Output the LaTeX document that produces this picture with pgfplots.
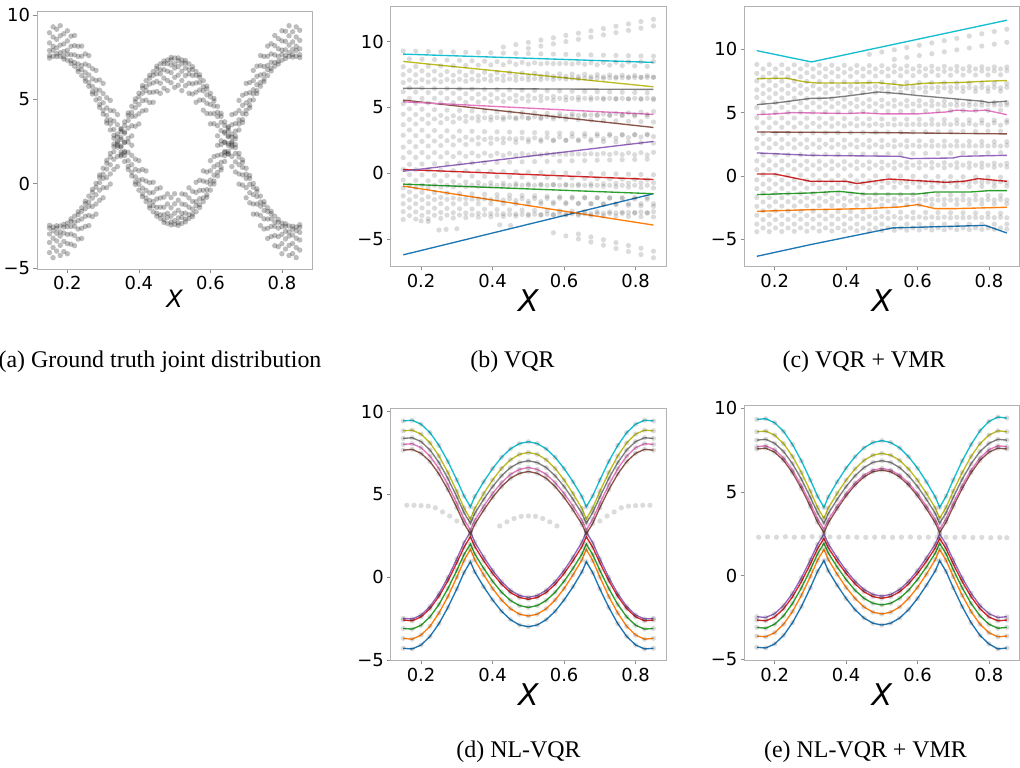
\documentclass[border=0pt]{standalone}
\usepackage{fontspec}
\setmainfont{DejaVu Sans}
\newfontfamily\capfont{Liberation Serif}
\usepackage{pgfplots}
\usepackage{pgfplotstable}
\pgfplotsset{compat=1.18}
\definecolor{tabblue}{HTML}{1F77B4}
\definecolor{taborange}{HTML}{FF7F0E}
\definecolor{tabgreen}{HTML}{2CA02C}
\definecolor{tabred}{HTML}{D62728}
\definecolor{tabpurple}{HTML}{9467BD}
\definecolor{tabbrown}{HTML}{8C564B}
\definecolor{tabpink}{HTML}{E377C2}
\definecolor{tabgray}{HTML}{7F7F7F}
\definecolor{tabolive}{HTML}{BCBD22}
\definecolor{tabcyan}{HTML}{17BECF}
\pgfplotsset{
 panel/.style={
  scale only axis, anchor=south west,
  xmin=0.115, xmax=0.885,
  xtick={0.2,0.4,0.6,0.8}, xticklabels={0.2,0.4,0.6,0.8},
  ytick={-5,0,5,10}, yticklabels={−5,0,5,10},
  xtick pos=bottom, ytick pos=left,
  tick align=outside, major tick length=3.5bp,
  tick style={draw=black!45, line width=0.6bp},
  axis line style={draw=black!30, line width=0.8bp},
  ticklabel style={font=\fontsize{18}{18}\selectfont},
  xlabel={X}, xlabel style={font=\fontsize{30}{30}\selectfont\itshape, yshift=4bp},
 },
 dots/.style={only marks, mark=*, mark size=2.7bp, black, mark options={draw opacity=0, fill opacity=0.26}},
 ldots/.style={only marks, mark=*, mark size=2.6bp, black, mark options={draw opacity=0, fill opacity=0.14}},
 qline/.style={no marks, line width=1.35bp},
}
\pgfplotstableread{
x a1 a2 a3 a4 a5 b1 b2 b3 b4 b5
0.15 -2.47 -2.64 -2.99 -3.49 -4.09 7.44 7.59 7.89 8.34 8.94
0.16 -2.57 -2.79 -3.24 -3.79 -4.39 7.54 7.89 8.14 8.69 9.29
0.17 -2.50 -2.65 -2.95 -3.40 -4.00 7.53 7.70 8.05 8.55 9.15
0.18 -2.51 -2.86 -3.11 -3.66 -4.26 7.54 7.76 8.21 8.76 9.36
0.19 -2.41 -2.58 -2.93 -3.43 -4.03 7.38 7.53 7.83 8.28 8.88
0.20 -2.34 -2.56 -3.01 -3.56 -4.16 7.31 7.66 7.91 8.46 9.06
0.21 -2.09 -2.24 -2.54 -2.99 -3.59 7.12 7.29 7.64 8.14 8.74
0.22 -1.93 -2.28 -2.53 -3.08 -3.68 6.96 7.18 7.63 8.18 8.78
0.23 -1.67 -1.84 -2.19 -2.69 -3.29 6.64 6.79 7.09 7.54 8.14
0.24 -1.43 -1.65 -2.10 -2.65 -3.25 6.40 6.75 7.00 7.55 8.15
0.25 -1.04 -1.19 -1.49 -1.94 -2.54 6.07 6.24 6.59 7.09 7.69
0.26 -0.74 -1.09 -1.34 -1.89 -2.49 5.77 5.99 6.44 6.99 7.59
0.27 -0.34 -0.51 -0.86 -1.36 -1.96 5.31 5.46 5.76 6.21 6.81
0.28 0.01 -0.21 -0.66 -1.21 -1.81 4.96 5.31 5.56 6.11 6.71
0.29 0.51 0.36 0.06 -0.39 -0.99 4.52 4.69 5.04 5.54 6.14
0.30 0.91 0.56 0.31 -0.24 -0.84 4.12 4.34 4.79 5.34 5.94
0.31 1.38 1.21 0.86 0.36 -0.24 3.59 3.74 4.04 4.49 5.09
0.32 1.79 1.57 1.12 0.57 -0.03 3.18 3.53 3.78 4.33 4.93
0.33 2.34 2.19 1.89 1.44 0.84 2.69 2.86 3.21 3.71 4.31
0.34 2.76 2.41 2.16 1.61 1.01 2.27 2.49 2.94 3.49 4.09
0.35 3.25 3.08 2.73 2.23 1.63 1.72 1.87 2.17 2.62 3.22
0.36 3.66 3.44 2.99 2.44 1.84 1.31 1.66 1.91 2.46 3.06
0.37 4.19 4.04 3.74 3.29 2.69 0.84 1.01 1.36 1.86 2.46
0.38 4.58 4.23 3.98 3.43 2.83 0.45 0.67 1.12 1.67 2.27
0.39 5.02 4.85 4.50 4.00 3.40 -0.05 0.10 0.40 0.85 1.45
0.40 5.36 5.14 4.69 4.14 3.54 -0.39 -0.04 0.21 0.76 1.36
0.41 5.81 5.66 5.36 4.91 4.31 -0.78 -0.61 -0.26 0.24 0.84
0.42 6.10 5.75 5.50 4.95 4.35 -1.07 -0.85 -0.40 0.15 0.75
0.43 6.42 6.25 5.90 5.40 4.80 -1.45 -1.30 -1.00 -0.55 0.05
0.44 6.64 6.42 5.97 5.42 4.82 -1.67 -1.32 -1.07 -0.52 0.08
0.45 6.96 6.81 6.51 6.06 5.46 -1.93 -1.76 -1.41 -0.91 -0.31
0.46 7.10 6.75 6.50 5.95 5.35 -2.07 -1.85 -1.40 -0.85 -0.25
0.47 7.27 7.10 6.75 6.25 5.65 -2.30 -2.15 -1.85 -1.40 -0.80
0.48 7.33 7.11 6.66 6.11 5.51 -2.36 -2.01 -1.76 -1.21 -0.61
0.49 7.48 7.33 7.03 6.58 5.98 -2.45 -2.28 -1.93 -1.43 -0.83
0.50 7.45 7.10 6.85 6.30 5.70 -2.42 -2.20 -1.75 -1.20 -0.60
0.51 7.45 7.28 6.93 6.43 5.83 -2.48 -2.33 -2.03 -1.58 -0.98
0.52 7.33 7.11 6.66 6.11 5.51 -2.36 -2.01 -1.76 -1.21 -0.61
0.53 7.30 7.15 6.85 6.40 5.80 -2.27 -2.10 -1.75 -1.25 -0.65
0.54 7.10 6.75 6.50 5.95 5.35 -2.07 -1.85 -1.40 -0.85 -0.25
0.55 6.93 6.76 6.41 5.91 5.31 -1.96 -1.81 -1.51 -1.06 -0.46
0.56 6.64 6.42 5.97 5.42 4.82 -1.67 -1.32 -1.07 -0.52 0.08
0.57 6.45 6.30 6.00 5.55 4.95 -1.42 -1.25 -0.90 -0.40 0.20
0.58 6.10 5.75 5.50 4.95 4.35 -1.07 -0.85 -0.40 0.15 0.75
0.59 5.78 5.61 5.26 4.76 4.16 -0.81 -0.66 -0.36 0.09 0.69
0.60 5.36 5.14 4.69 4.14 3.54 -0.39 -0.04 0.21 0.76 1.36
0.61 5.05 4.90 4.60 4.15 3.55 -0.02 0.15 0.50 1.00 1.60
0.62 4.58 4.23 3.98 3.43 2.83 0.45 0.67 1.12 1.67 2.27
0.63 4.16 3.99 3.64 3.14 2.54 0.81 0.96 1.26 1.71 2.31
0.64 3.66 3.44 2.99 2.44 1.84 1.31 1.66 1.91 2.46 3.06
0.65 3.28 3.13 2.83 2.38 1.78 1.75 1.92 2.27 2.77 3.37
0.66 2.76 2.41 2.16 1.61 1.01 2.27 2.49 2.94 3.49 4.09
0.67 2.31 2.14 1.79 1.29 0.69 2.66 2.81 3.11 3.56 4.16
0.68 1.79 1.57 1.12 0.57 -0.03 3.18 3.53 3.78 4.33 4.93
0.69 1.41 1.26 0.96 0.51 -0.09 3.62 3.79 4.14 4.64 5.24
0.70 0.91 0.56 0.31 -0.24 -0.84 4.12 4.34 4.79 5.34 5.94
0.71 0.48 0.31 -0.04 -0.54 -1.14 4.49 4.64 4.94 5.39 5.99
0.72 0.01 -0.21 -0.66 -1.21 -1.81 4.96 5.31 5.56 6.11 6.71
0.73 -0.31 -0.46 -0.76 -1.21 -1.81 5.34 5.51 5.86 6.36 6.96
0.74 -0.74 -1.09 -1.34 -1.89 -2.49 5.77 5.99 6.44 6.99 7.59
0.75 -1.07 -1.24 -1.59 -2.09 -2.69 6.04 6.19 6.49 6.94 7.54
0.76 -1.43 -1.65 -2.10 -2.65 -3.25 6.40 6.75 7.00 7.55 8.15
0.77 -1.64 -1.79 -2.09 -2.54 -3.14 6.67 6.84 7.19 7.69 8.29
0.78 -1.93 -2.28 -2.53 -3.08 -3.68 6.96 7.18 7.63 8.18 8.78
0.79 -2.12 -2.29 -2.64 -3.14 -3.74 7.09 7.24 7.54 7.99 8.59
0.80 -2.34 -2.56 -3.01 -3.56 -4.16 7.31 7.66 7.91 8.46 9.06
0.81 -2.38 -2.53 -2.83 -3.28 -3.88 7.41 7.58 7.93 8.43 9.03
0.82 -2.51 -2.86 -3.11 -3.66 -4.26 7.54 7.76 8.21 8.76 9.36
0.83 -2.53 -2.70 -3.05 -3.55 -4.15 7.50 7.65 7.95 8.40 9.00
0.84 -2.57 -2.79 -3.24 -3.79 -4.39 7.54 7.89 8.14 8.69 9.29
0.85 -2.44 -2.59 -2.89 -3.34 -3.94 7.47 7.64 7.99 8.49 9.09
}\tabA
\pgfplotstableread{
x s1 s2 s3 s4 s5 s6 s7 s8 s9 s10 s11 s12 s13 s14 s15 s16 s17 s18
0.150 9.30 8.10 7.50 6.90 6.20 5.30 4.50 3.70 2.90 2.00 1.20 0.30 -0.50 -1.10 -1.70 -2.30 -2.90 -3.50
0.185 9.28 8.12 7.49 6.92 6.17 5.32 4.47 3.75 2.87 2.04 1.22 0.28 -0.53 -1.08 -1.74 -2.30 -2.92 -3.47
0.220 9.26 8.14 7.48 6.94 6.14 5.34 4.44 3.80 2.84 2.08 1.24 0.26 -0.56 -1.06 -1.78 -2.30 -2.94 -3.44
0.255 9.24 8.16 7.47 6.96 6.11 5.36 4.41 3.85 2.81 2.12 1.26 0.24 -0.59 -1.04 -1.82 -2.30 -2.96 -3.41
0.290 9.22 8.18 7.46 6.98 6.08 5.38 4.38 3.90 2.78 2.16 1.28 0.22 -0.62 -1.02 -1.86 -2.30 -2.98 -3.38
0.325 9.20 8.20 7.45 7.00 6.05 5.40 4.35 3.95 2.75 2.20 1.30 0.20 -0.65 -1.00 -1.90 -2.30 -3.00 -3.35
0.360 9.18 8.22 7.44 7.02 6.02 5.42 4.32 4.00 2.72 2.24 1.32 0.18 -0.68 -0.98 -1.94 -2.30 -3.02 -3.32
0.395 9.16 8.24 7.43 7.04 5.99 5.44 4.29 4.05 2.69 2.28 1.34 0.16 -0.71 -0.96 -1.98 -2.30 -3.04 -3.29
0.430 9.14 8.26 7.42 7.06 5.96 5.46 4.26 4.10 2.66 2.32 1.36 0.14 -0.74 -0.94 -2.02 -2.30 -3.06 -3.26
0.465 9.12 8.28 7.41 7.08 5.93 5.48 4.23 4.15 2.63 2.36 1.38 0.12 -0.77 -0.92 -2.06 -2.30 -3.08 -3.23
0.500 9.10 8.30 7.40 7.10 5.90 5.50 4.20 4.20 2.60 2.40 1.40 0.10 -0.80 -0.90 -2.10 -2.30 -3.10 -3.20
0.535 9.08 8.32 7.39 7.12 5.87 5.52 4.17 4.25 2.57 2.44 1.42 0.08 -0.83 -0.88 -2.14 -2.30 -3.12 -3.17
0.570 9.06 8.34 7.38 7.14 5.84 5.54 4.14 4.30 2.54 2.48 1.44 0.06 -0.86 -0.86 -2.18 -2.30 -3.14 -3.14
0.605 9.04 8.36 7.37 7.16 5.81 5.56 4.11 4.35 2.51 2.52 1.46 0.04 -0.89 -0.84 -2.22 -2.30 -3.16 -3.11
0.640 9.02 8.38 7.36 7.18 5.78 5.58 4.08 4.40 2.48 2.56 1.48 0.02 -0.92 -0.82 -2.26 -2.30 -3.18 -3.08
0.675 9.00 8.40 7.35 7.20 5.75 5.60 4.05 4.45 2.45 2.60 1.50 0.00 -0.95 -0.80 -2.30 -2.30 -3.20 -3.05
0.710 8.98 8.42 7.34 7.22 5.72 5.62 4.02 4.50 2.42 2.64 1.52 -0.02 -0.98 -0.78 -2.34 -2.30 -3.22 -3.02
0.745 8.96 8.44 7.33 7.24 5.69 5.64 3.99 4.55 2.39 2.68 1.54 -0.04 -1.01 -0.76 -2.38 -2.30 -3.24 -2.99
0.780 8.94 8.46 7.32 7.26 5.66 5.66 3.96 4.60 2.36 2.72 1.56 -0.06 -1.04 -0.74 -2.42 -2.30 -3.26 -2.96
0.815 8.92 8.48 7.31 7.28 5.63 5.68 3.93 4.65 2.33 2.76 1.58 -0.08 -1.07 -0.72 -2.46 -2.30 -3.28 -2.93
0.850 8.90 8.50 7.30 7.30 5.60 5.70 3.90 4.70 2.30 2.80 1.60 -0.10 -1.10 -0.70 -2.50 -2.30 -3.30 -2.90
}\tabB
\pgfplotstableread{
x t1 t2 t3 t4 t5 t6 t7 t8 t9 t10 t11 t12 t13 t14 t15 t16 t17
0.1675 8.70 7.80 7.10 6.50 5.70 4.90 4.10 3.30 2.40 1.60 0.70 -0.10 -0.90 -1.40 -2.00 -2.60 -3.20
0.2025 8.67 7.78 7.11 6.48 5.70 4.87 4.12 3.28 2.43 1.59 0.72 -0.12 -0.90 -1.43 -1.99 -2.62 -3.19
0.2375 8.64 7.76 7.12 6.46 5.70 4.84 4.14 3.26 2.46 1.58 0.74 -0.14 -0.90 -1.46 -1.98 -2.64 -3.18
0.2725 8.61 7.74 7.13 6.44 5.70 4.81 4.16 3.24 2.49 1.57 0.76 -0.16 -0.90 -1.49 -1.97 -2.66 -3.17
0.3075 8.58 7.72 7.14 6.42 5.70 4.78 4.18 3.22 2.52 1.56 0.78 -0.18 -0.90 -1.52 -1.96 -2.68 -3.16
0.3425 8.55 7.70 7.15 6.40 5.70 4.75 4.20 3.20 2.55 1.55 0.80 -0.20 -0.90 -1.55 -1.95 -2.70 -3.15
0.3775 8.52 7.68 7.16 6.38 5.70 4.72 4.22 3.18 2.58 1.54 0.82 -0.22 -0.90 -1.58 -1.94 -2.72 -3.14
0.4125 8.49 7.66 7.17 6.36 5.70 4.69 4.24 3.16 2.61 1.53 0.84 -0.24 -0.90 -1.61 -1.93 -2.74 -3.13
0.4475 8.46 7.64 7.18 6.34 5.70 4.66 4.26 3.14 2.64 1.52 0.86 -0.26 -0.90 -1.64 -1.92 -2.76 -3.12
0.4825 8.43 7.62 7.19 6.32 5.70 4.63 4.28 3.12 2.67 1.51 0.88 -0.28 -0.90 -1.67 -1.91 -2.78 -3.11
0.5175 8.40 7.60 7.20 6.30 5.70 4.60 4.30 3.10 2.70 1.50 0.90 -0.30 -0.90 -1.70 -1.90 -2.80 -3.10
0.5525 8.37 7.58 7.21 6.28 5.70 4.57 4.32 3.08 2.73 1.49 0.92 -0.32 -0.90 -1.73 -1.89 -2.82 -3.09
0.5875 8.34 7.56 7.22 6.26 5.70 4.54 4.34 3.06 2.76 1.48 0.94 -0.34 -0.90 -1.76 -1.88 -2.84 -3.08
0.6225 8.31 7.54 7.23 6.24 5.70 4.51 4.36 3.04 2.79 1.47 0.96 -0.36 -0.90 -1.79 -1.87 -2.86 -3.07
0.6575 8.28 7.52 7.24 6.22 5.70 4.48 4.38 3.02 2.82 1.46 0.98 -0.38 -0.90 -1.82 -1.86 -2.88 -3.06
0.6925 8.25 7.50 7.25 6.20 5.70 4.45 4.40 3.00 2.85 1.45 1.00 -0.40 -0.90 -1.85 -1.85 -2.90 -3.05
0.7275 8.22 7.48 7.26 6.18 5.70 4.42 4.42 2.98 2.88 1.44 1.02 -0.42 -0.90 -1.88 -1.84 -2.92 -3.04
0.7625 8.19 7.46 7.27 6.16 5.70 4.39 4.44 2.96 2.91 1.43 1.04 -0.44 -0.90 -1.91 -1.83 -2.94 -3.03
0.7975 8.16 7.44 7.28 6.14 5.70 4.36 4.46 2.94 2.94 1.42 1.06 -0.46 -0.90 -1.94 -1.82 -2.96 -3.02
0.8325 8.13 7.42 7.29 6.12 5.70 4.33 4.48 2.92 2.97 1.41 1.08 -0.48 -0.90 -1.97 -1.81 -2.98 -3.01
}\tabBB
\pgfplotstableread{
x c1 c2 c3 c4 c5 c6 c7 c8 c9 c10 c11 c12 c13 c14 c15 c16 c17 c18 c19
0.150 8.80 8.10 7.50 6.80 6.20 5.40 4.60 3.80 2.90 2.20 1.20 0.50 -0.30 -1.00 -1.70 -2.40 -3.10 -3.80 -4.40
0.185 8.79 8.11 7.49 6.81 6.18 5.41 4.59 3.82 2.89 2.21 1.19 0.51 -0.31 -0.99 -1.71 -2.39 -3.11 -3.80 -4.39
0.220 8.78 8.12 7.48 6.82 6.16 5.42 4.58 3.84 2.88 2.22 1.18 0.52 -0.32 -0.98 -1.72 -2.38 -3.12 -3.80 -4.38
0.255 8.77 8.13 7.47 6.83 6.14 5.43 4.57 3.86 2.87 2.23 1.17 0.53 -0.33 -0.97 -1.73 -2.37 -3.13 -3.80 -4.37
0.290 8.76 8.14 7.46 6.84 6.12 5.44 4.56 3.88 2.86 2.24 1.16 0.54 -0.34 -0.96 -1.74 -2.36 -3.14 -3.80 -4.36
0.325 8.75 8.15 7.45 6.85 6.10 5.45 4.55 3.90 2.85 2.25 1.15 0.55 -0.35 -0.95 -1.75 -2.35 -3.15 -3.80 -4.35
0.360 8.74 8.16 7.44 6.86 6.08 5.46 4.54 3.92 2.84 2.26 1.14 0.56 -0.36 -0.94 -1.76 -2.34 -3.16 -3.80 -4.34
0.395 8.73 8.17 7.43 6.87 6.06 5.47 4.53 3.94 2.83 2.27 1.13 0.57 -0.37 -0.93 -1.77 -2.33 -3.17 -3.80 -4.33
0.430 8.72 8.18 7.42 6.88 6.04 5.48 4.52 3.96 2.82 2.28 1.12 0.58 -0.38 -0.92 -1.78 -2.32 -3.18 -3.80 -4.32
0.465 8.71 8.19 7.41 6.89 6.02 5.49 4.51 3.98 2.81 2.29 1.11 0.59 -0.39 -0.91 -1.79 -2.31 -3.19 -3.80 -4.31
0.500 8.70 8.20 7.40 6.90 6.00 5.50 4.50 4.00 2.80 2.30 1.10 0.60 -0.40 -0.90 -1.80 -2.30 -3.20 -3.80 -4.30
0.535 8.69 8.21 7.39 6.91 5.98 5.51 4.49 4.02 2.79 2.31 1.09 0.61 -0.41 -0.89 -1.81 -2.29 -3.21 -3.80 -4.29
0.570 8.68 8.22 7.38 6.92 5.96 5.52 4.48 4.04 2.78 2.32 1.08 0.62 -0.42 -0.88 -1.82 -2.28 -3.22 -3.80 -4.28
0.605 8.67 8.23 7.37 6.93 5.94 5.53 4.47 4.06 2.77 2.33 1.07 0.63 -0.43 -0.87 -1.83 -2.27 -3.23 -3.80 -4.27
0.640 8.66 8.24 7.36 6.94 5.92 5.54 4.46 4.08 2.76 2.34 1.06 0.64 -0.44 -0.86 -1.84 -2.26 -3.24 -3.80 -4.26
0.675 8.65 8.25 7.35 6.95 5.90 5.55 4.45 4.10 2.75 2.35 1.05 0.65 -0.45 -0.85 -1.85 -2.25 -3.25 -3.80 -4.25
0.710 8.64 8.26 7.34 6.96 5.88 5.56 4.44 4.12 2.74 2.36 1.04 0.66 -0.46 -0.84 -1.86 -2.24 -3.26 -3.80 -4.24
0.745 8.63 8.27 7.33 6.97 5.86 5.57 4.43 4.14 2.73 2.37 1.03 0.67 -0.47 -0.83 -1.87 -2.23 -3.27 -3.80 -4.23
0.780 8.62 8.28 7.32 6.98 5.84 5.58 4.42 4.16 2.72 2.38 1.02 0.68 -0.48 -0.82 -1.88 -2.22 -3.28 -3.80 -4.22
0.815 8.61 8.29 7.31 6.99 5.82 5.59 4.41 4.18 2.71 2.39 1.01 0.69 -0.49 -0.81 -1.89 -2.21 -3.29 -3.80 -4.21
0.850 8.60 8.30 7.30 7.00 5.80 5.60 4.40 4.20 2.70 2.40 1.00 0.70 -0.50 -0.80 -1.90 -2.20 -3.30 -3.80 -4.20
}\tabC
\pgfplotstableread{
x t1 t2 t3 t4 t5 t6 t7 t8 t9 t10 t11 t12 t13 t14 t15 t16 t17 t18
0.1675 8.45 7.80 7.15 6.50 5.80 5.00 4.20 3.35 2.55 1.65 0.85 0.10 -0.65 -1.35 -2.05 -2.75 -3.45 -4.10
0.2025 8.45 7.81 7.14 6.51 5.79 5.01 4.19 3.36 2.54 1.66 0.85 0.09 -0.64 -1.36 -2.04 -2.76 -3.44 -4.10
0.2375 8.45 7.82 7.13 6.52 5.78 5.02 4.18 3.37 2.53 1.67 0.85 0.08 -0.63 -1.37 -2.03 -2.77 -3.43 -4.10
0.2725 8.45 7.83 7.12 6.53 5.77 5.03 4.17 3.38 2.52 1.68 0.85 0.07 -0.62 -1.38 -2.02 -2.78 -3.42 -4.10
0.3075 8.45 7.84 7.11 6.54 5.76 5.04 4.16 3.39 2.51 1.69 0.85 0.06 -0.61 -1.39 -2.01 -2.79 -3.41 -4.10
0.3425 8.45 7.85 7.10 6.55 5.75 5.05 4.15 3.40 2.50 1.70 0.85 0.05 -0.60 -1.40 -2.00 -2.80 -3.40 -4.10
0.3775 8.45 7.86 7.09 6.56 5.74 5.06 4.14 3.41 2.49 1.71 0.85 0.04 -0.59 -1.41 -1.99 -2.81 -3.39 -4.10
0.4125 8.45 7.87 7.08 6.57 5.73 5.07 4.13 3.42 2.48 1.72 0.85 0.03 -0.58 -1.42 -1.98 -2.82 -3.38 -4.10
0.4475 8.45 7.88 7.07 6.58 5.72 5.08 4.12 3.43 2.47 1.73 0.85 0.02 -0.57 -1.43 -1.97 -2.83 -3.37 -4.10
0.4825 8.45 7.89 7.06 6.59 5.71 5.09 4.11 3.44 2.46 1.74 0.85 0.01 -0.56 -1.44 -1.96 -2.84 -3.36 -4.10
0.5175 8.45 7.90 7.05 6.60 5.70 5.10 4.10 3.45 2.45 1.75 0.85 0.00 -0.55 -1.45 -1.95 -2.85 -3.35 -4.10
0.5525 8.45 7.91 7.04 6.61 5.69 5.11 4.09 3.46 2.44 1.76 0.85 -0.01 -0.54 -1.46 -1.94 -2.86 -3.34 -4.10
0.5875 8.45 7.92 7.03 6.62 5.68 5.12 4.08 3.47 2.43 1.77 0.85 -0.02 -0.53 -1.47 -1.93 -2.87 -3.33 -4.10
0.6225 8.45 7.93 7.02 6.63 5.67 5.13 4.07 3.48 2.42 1.78 0.85 -0.03 -0.52 -1.48 -1.92 -2.88 -3.32 -4.10
0.6575 8.45 7.94 7.01 6.64 5.66 5.14 4.06 3.49 2.41 1.79 0.85 -0.04 -0.51 -1.49 -1.91 -2.89 -3.31 -4.10
0.6925 8.45 7.95 7.00 6.65 5.65 5.15 4.05 3.50 2.40 1.80 0.85 -0.05 -0.50 -1.50 -1.90 -2.90 -3.30 -4.10
0.7275 8.45 7.96 6.99 6.66 5.64 5.16 4.04 3.51 2.39 1.81 0.85 -0.06 -0.49 -1.51 -1.89 -2.91 -3.29 -4.10
0.7625 8.45 7.97 6.98 6.67 5.63 5.17 4.03 3.52 2.38 1.82 0.85 -0.07 -0.48 -1.52 -1.88 -2.92 -3.28 -4.10
0.7975 8.45 7.98 6.97 6.68 5.62 5.18 4.02 3.53 2.37 1.83 0.85 -0.08 -0.47 -1.53 -1.87 -2.93 -3.27 -4.10
0.8325 8.45 7.99 6.96 6.69 5.61 5.19 4.01 3.54 2.36 1.84 0.85 -0.09 -0.46 -1.54 -1.86 -2.94 -3.26 -4.10
}\tabCC
\pgfplotstableread{
x cy ol gy pk bn pu rd gn og bl
0.150 9.45 8.85 8.39 8.03 7.68 -2.48 -2.58 -3.09 -3.69 -4.29
0.175 9.49 8.89 8.43 8.07 7.73 -2.52 -2.63 -3.13 -3.74 -4.33
0.200 9.25 8.65 8.20 7.83 7.49 -2.28 -2.39 -2.90 -3.49 -4.09
0.225 8.74 8.12 7.69 7.32 6.99 -1.76 -1.89 -2.39 -2.96 -3.57
0.250 7.97 7.33 6.93 6.56 6.24 -0.99 -1.15 -1.64 -2.16 -2.80
0.275 7.00 6.33 5.97 5.59 5.29 -0.01 -0.21 -0.68 -1.16 -1.82
0.300 5.88 5.19 4.86 4.47 4.20 1.12 0.88 0.42 0.01 -0.70
0.320 4.92 4.19 3.91 3.51 3.25 2.09 1.81 1.37 1.01 0.28
0.338 4.26 3.52 3.26 2.85 2.61 2.75 2.45 2.01 1.69 0.94
0.350 4.87 4.15 3.85 3.44 3.20 2.13 1.86 1.41 1.06 0.33
0.375 5.77 5.06 4.71 4.30 4.06 1.23 1.00 0.54 0.15 -0.57
0.400 6.57 5.88 5.48 5.07 4.83 0.42 0.23 -0.24 -0.68 -1.37
0.425 7.25 6.58 6.13 5.72 5.48 -0.26 -0.42 -0.90 -1.37 -2.05
0.450 7.76 7.10 6.63 6.22 5.98 -0.78 -0.92 -1.40 -1.90 -2.56
0.475 8.08 7.43 6.93 6.52 6.28 -1.10 -1.22 -1.71 -2.23 -2.88
0.500 8.19 7.54 7.04 6.63 6.39 -1.21 -1.33 -1.82 -2.34 -2.99
0.525 8.08 7.43 6.93 6.52 6.28 -1.10 -1.22 -1.71 -2.23 -2.88
0.550 7.76 7.10 6.63 6.22 5.98 -0.78 -0.92 -1.40 -1.90 -2.56
0.575 7.25 6.58 6.13 5.72 5.48 -0.26 -0.42 -0.90 -1.37 -2.05
0.600 6.57 5.88 5.48 5.07 4.83 0.42 0.23 -0.24 -0.68 -1.37
0.625 5.77 5.06 4.71 4.30 4.06 1.23 1.00 0.54 0.15 -0.57
0.650 4.87 4.15 3.85 3.44 3.20 2.13 1.86 1.41 1.06 0.33
0.662 4.26 3.52 3.26 2.85 2.61 2.75 2.45 2.01 1.69 0.94
0.680 4.92 4.19 3.91 3.51 3.25 2.09 1.81 1.37 1.01 0.28
0.700 5.88 5.19 4.86 4.47 4.20 1.12 0.88 0.42 0.01 -0.70
0.725 7.00 6.33 5.97 5.59 5.29 -0.01 -0.21 -0.68 -1.16 -1.82
0.750 7.97 7.33 6.93 6.56 6.24 -0.99 -1.15 -1.64 -2.16 -2.80
0.775 8.74 8.12 7.69 7.32 6.99 -1.76 -1.89 -2.39 -2.96 -3.57
0.800 9.25 8.65 8.20 7.83 7.49 -2.28 -2.39 -2.90 -3.49 -4.09
0.825 9.49 8.89 8.43 8.07 7.73 -2.52 -2.63 -3.13 -3.74 -4.33
0.850 9.45 8.85 8.39 8.03 7.68 -2.48 -2.58 -3.09 -3.69 -4.29
}\tabD
\pgfplotstableread{
x cy ol gy pk bn pu rd gn og bl
0.150 9.34 8.60 8.10 7.71 7.57 -2.45 -2.65 -3.09 -3.61 -4.28
0.175 9.38 8.64 8.15 7.76 7.62 -2.50 -2.70 -3.14 -3.65 -4.32
0.200 9.14 8.40 7.91 7.53 7.38 -2.27 -2.47 -2.90 -3.41 -4.08
0.225 8.62 7.89 7.42 7.04 6.89 -1.78 -1.98 -2.40 -2.90 -3.57
0.250 7.84 7.13 6.69 6.31 6.15 -1.05 -1.26 -1.66 -2.14 -2.81
0.275 6.86 6.16 5.76 5.38 5.21 -0.12 -0.35 -0.72 -1.17 -1.84
0.300 5.72 5.05 4.68 4.32 4.13 0.95 0.70 0.36 -0.05 -0.72
0.320 4.75 4.08 3.76 3.40 3.20 1.87 1.61 1.30 0.92 0.25
0.338 4.08 3.43 3.13 2.77 2.57 2.49 2.23 1.93 1.57 0.90
0.350 4.70 4.04 3.71 3.34 3.15 1.91 1.67 1.36 0.97 0.30
0.375 5.61 4.92 4.56 4.16 4.00 1.07 0.86 0.52 0.09 -0.57
0.400 6.43 5.71 5.33 4.91 4.77 0.31 0.13 -0.23 -0.70 -1.36
0.425 7.11 6.38 5.97 5.54 5.41 -0.33 -0.49 -0.87 -1.36 -2.03
0.450 7.64 6.89 6.46 6.01 5.90 -0.82 -0.96 -1.35 -1.87 -2.53
0.475 7.96 7.20 6.77 6.31 6.21 -1.12 -1.25 -1.65 -2.18 -2.84
0.500 8.07 7.31 6.87 6.41 6.31 -1.22 -1.35 -1.75 -2.29 -2.95
0.525 7.96 7.20 6.77 6.31 6.21 -1.12 -1.25 -1.65 -2.18 -2.84
0.550 7.64 6.89 6.46 6.01 5.90 -0.82 -0.96 -1.35 -1.87 -2.53
0.575 7.11 6.38 5.97 5.54 5.41 -0.33 -0.49 -0.87 -1.36 -2.03
0.600 6.43 5.71 5.33 4.91 4.77 0.31 0.13 -0.23 -0.70 -1.36
0.625 5.61 4.92 4.56 4.16 4.00 1.07 0.86 0.52 0.09 -0.57
0.650 4.70 4.04 3.71 3.34 3.15 1.91 1.67 1.36 0.97 0.30
0.662 4.08 3.43 3.13 2.77 2.57 2.49 2.23 1.93 1.57 0.90
0.680 4.75 4.08 3.76 3.40 3.20 1.87 1.61 1.30 0.92 0.25
0.700 5.72 5.05 4.68 4.32 4.13 0.95 0.70 0.36 -0.05 -0.72
0.725 6.86 6.16 5.76 5.38 5.21 -0.12 -0.35 -0.72 -1.17 -1.84
0.750 7.84 7.13 6.69 6.31 6.15 -1.05 -1.26 -1.66 -2.14 -2.81
0.775 8.66 7.89 7.42 7.04 6.89 -1.78 -1.98 -2.40 -2.90 -3.57
0.800 9.22 8.40 7.91 7.53 7.38 -2.27 -2.47 -2.90 -3.41 -4.08
0.825 9.48 8.66 8.15 7.76 7.62 -2.50 -2.70 -3.14 -3.65 -4.38
0.850 9.42 8.60 8.10 7.71 7.57 -2.45 -2.65 -3.09 -3.61 -4.32
}\tabE
\begin{document}
\begin{tikzpicture}
\path[use as bounding box] (0,0) rectangle (1020bp,768bp);
% (a)
\begin{axis}[panel, at={(37bp,498.7bp)}, width=275.3bp, height=257.6bp, ymin=-5.08, ymax=10.19,
  xlabel style={font=\fontsize{24}{24}\selectfont\itshape, yshift=3bp}]
\pgfplotsinvokeforeach{a1,a2,a3,a4,a5,b1,b2,b3,b4,b5}{\addplot[dots] table[x=x,y=#1]{\tabA};}
\end{axis}
% (b)
\begin{axis}[panel, at={(390.7bp,501.3bp)}, width=275.3bp, height=260bp, ymin=-7.08, ymax=12.66]
\pgfplotsinvokeforeach{s1,s2,s3,s4,s5,s6,s7,s8,s9,s10,s11,s12,s13,s14,s15,s16,s17,s18}{\addplot[ldots] table[x=x,y=#1]{\tabB};}
\pgfplotsinvokeforeach{t1,t2,t3,t4,t5,t6,t7,t8,t9,t10,t11,t12,t13,t14,t15,t16,t17}{\addplot[ldots] table[x=x,y=#1]{\tabBB};}
\addplot[ldots] coordinates {(0.43,9.6)(0.465,9.78)(0.5,9.95)(0.535,10.13)(0.57,10.3)(0.605,10.48)(0.64,10.65)(0.675,10.83)(0.71,11.0)(0.745,11.18)(0.78,11.35)(0.815,11.53)(0.85,11.7)
 (0.5,9.5)(0.535,9.67)(0.57,9.84)(0.605,10.01)(0.64,10.18)(0.675,10.35)(0.71,10.52)(0.745,10.69)(0.78,10.86)(0.815,11.03)(0.85,11.2)
 (0.57,-4.5)(0.605,-4.74)(0.64,-4.98)(0.675,-5.21)(0.71,-5.45)(0.745,-5.69)(0.78,-5.93)(0.815,-6.16)(0.85,-6.4)
 (0.64,-4.6)(0.675,-4.82)(0.71,-5.03)(0.745,-5.25)(0.78,-5.47)(0.815,-5.68)(0.85,-5.9)
 (0.25,-4.3)(0.27,-4.25)(0.3,-4.2)(0.42,-3.9)(0.45,-3.95)(0.2,-3.6)(0.22,-3.65)};
\addplot[qline, tabblue] coordinates {(0.15,-6.18)(0.85,-1.54)};
\addplot[qline, taborange] coordinates {(0.15,-0.96)(0.85,-3.92)};
\addplot[qline, tabgreen] coordinates {(0.15,-0.81)(0.85,-1.54)};
\addplot[qline, tabred] coordinates {(0.15,0.3)(0.85,-0.46)};
\addplot[qline, tabpurple] coordinates {(0.15,0.17)(0.85,2.43)};
\addplot[qline, tabbrown] coordinates {(0.15,5.57)(0.85,3.49)};
\addplot[qline, tabpink] coordinates {(0.15,5.44)(0.85,4.48)};
\addplot[qline, tabgray] coordinates {(0.15,6.46)(0.85,6.38)};
\addplot[qline, tabolive] coordinates {(0.15,8.5)(0.85,6.58)};
\addplot[qline, tabcyan] coordinates {(0.15,9.06)(0.85,8.43)};
\end{axis}
% (c)
\begin{axis}[panel, at={(744.3bp,501.3bp)}, width=275bp, height=260bp, ymin=-7.16, ymax=13.36]
\pgfplotsinvokeforeach{c1,c2,c3,c4,c5,c6,c7,c8,c9,c10,c11,c12,c13,c14,c15,c16,c17,c18,c19}{\addplot[ldots] table[x=x,y=#1]{\tabC};}
\pgfplotsinvokeforeach{t1,t2,t3,t4,t5,t6,t7,t8,t9,t10,t11,t12,t13,t14,t15,t16,t17,t18}{\addplot[ldots] table[x=x,y=#1]{\tabCC};}
\addplot[ldots] coordinates {(0.465,9.6)(0.5,9.78)(0.535,9.96)(0.57,10.14)(0.605,10.32)(0.64,10.5)(0.675,10.68)(0.71,10.86)(0.745,11.04)(0.78,11.22)(0.815,11.4)(0.85,11.58)
 (0.535,9.2)(0.57,9.35)(0.605,9.5)(0.64,9.65)(0.675,9.8)(0.71,9.95)(0.745,10.1)(0.78,10.25)(0.815,10.4)(0.85,10.55)};
\addplot[qline, tabblue] coordinates {(0.15,-6.34)(0.3,-5.42)(0.53,-4.1)(0.79,-3.9)(0.85,-4.5)};
\addplot[qline, taborange] coordinates {(0.15,-2.79)(0.3,-2.66)(0.45,-2.58)(0.55,-2.45)(0.6,-2.26)(0.65,-2.58)(0.7,-2.58)(0.85,-2.47)};
\addplot[qline, tabgreen] coordinates {(0.15,-1.47)(0.3,-1.34)(0.38,-1.21)(0.45,-1.42)(0.6,-1.42)(0.65,-1.26)(0.75,-1.26)(0.8,-1.16)(0.85,-1.16)};
\addplot[qline, tabred] coordinates {(0.15,0.16)(0.2,0.16)(0.3,-0.42)(0.4,-0.42)(0.43,-0.6)(0.52,-0.24)(0.6,-0.37)(0.68,-0.5)(0.73,-0.42)(0.77,-0.21)(0.8,-0.29)(0.85,-0.42)};
\addplot[qline, tabpurple] coordinates {(0.15,1.82)(0.3,1.63)(0.55,1.55)(0.58,1.37)(0.7,1.42)(0.72,1.55)(0.85,1.63)};
\addplot[qline, tabbrown] coordinates {(0.15,3.47)(0.5,3.42)(0.85,3.32)};
\addplot[qline, tabpink] coordinates {(0.15,4.84)(0.2,4.9)(0.25,5.0)(0.4,4.93)(0.45,4.98)(0.5,4.9)(0.6,4.9)(0.68,5.05)(0.71,5.2)(0.75,5.12)(0.79,5.2)(0.85,4.84)};
\addplot[qline, tabgray] coordinates {(0.15,5.63)(0.2,5.75)(0.3,6.12)(0.35,6.15)(0.4,6.3)(0.49,6.63)(0.55,6.5)(0.6,6.35)(0.7,6.1)(0.78,5.9)(0.8,5.8)(0.85,5.9)};
\addplot[qline, tabolive] coordinates {(0.15,7.68)(0.233,7.72)(0.285,7.42)(0.318,7.34)(0.43,7.34)(0.49,7.36)(0.562,7.16)(0.62,7.32)(0.73,7.39)(0.79,7.48)(0.85,7.53)};
\addplot[qline, tabcyan] coordinates {(0.15,9.89)(0.303,9.0)(0.85,12.29)};
\end{axis}
% (d)
\begin{axis}[panel, at={(390.7bp,107.3bp)}, width=275.3bp, height=252.4bp, ymin=-5.04, ymax=10.21]
\pgfplotsinvokeforeach{cy,ol,gy,pk,bn,pu,rd,gn,og,bl}{\addplot[ldots] table[x=x,y=#1]{\tabD};}
\addplot[ldots] coordinates {(0.16,4.35)(0.18,4.35)(0.2,4.33)(0.22,4.3)(0.24,4.2)(0.26,3.95)(0.28,3.7)(0.3,3.4)(0.42,3.1)(0.44,3.35)(0.46,3.55)(0.48,3.68)(0.5,3.7)(0.52,3.68)(0.54,3.55)(0.56,3.35)(0.58,3.1)(0.70,3.4)(0.72,3.7)(0.74,3.95)(0.76,4.2)(0.78,4.3)(0.8,4.33)(0.82,4.35)(0.84,4.35)};
\addplot[qline, tabblue] table[x=x,y=bl]{\tabD};
\addplot[qline, taborange] table[x=x,y=og]{\tabD};
\addplot[qline, tabgreen] table[x=x,y=gn]{\tabD};
\addplot[qline, tabred] table[x=x,y=rd]{\tabD};
\addplot[qline, tabpurple] table[x=x,y=pu]{\tabD};
\addplot[qline, tabbrown] table[x=x,y=bn]{\tabD};
\addplot[qline, tabpink] table[x=x,y=pk]{\tabD};
\addplot[qline, tabgray] table[x=x,y=gy]{\tabD};
\addplot[qline, tabolive] table[x=x,y=ol]{\tabD};
\addplot[qline, tabcyan] table[x=x,y=cy]{\tabD};
\end{axis}
% (e)
\begin{axis}[panel, at={(744.3bp,107.3bp)}, width=275bp, height=255.7bp, ymin=-5.08, ymax=10.2]
\pgfplotsinvokeforeach{cy,ol,gy,pk,bn,pu,rd,gn,og,bl}{\addplot[ldots] table[x=x,y=#1]{\tabE};}
\addplot[ldots] coordinates {(0.155,2.3)(0.18,2.32)(0.205,2.3)(0.23,2.33)(0.255,2.3)(0.28,2.31)(0.305,2.33)(0.33,2.3)(0.355,2.32)(0.38,2.3)(0.405,2.31)(0.43,2.3)(0.455,2.29)(0.48,2.3)(0.505,2.31)(0.53,2.29)(0.555,2.3)(0.58,2.31)(0.605,2.29)(0.63,2.3)(0.655,2.31)(0.68,2.3)(0.705,2.29)(0.73,2.31)(0.755,2.28)(0.78,2.29)(0.805,2.27)(0.83,2.28)(0.85,2.27)};
\addplot[qline, tabblue] table[x=x,y=bl]{\tabE};
\addplot[qline, taborange] table[x=x,y=og]{\tabE};
\addplot[qline, tabgreen] table[x=x,y=gn]{\tabE};
\addplot[qline, tabred] table[x=x,y=rd]{\tabE};
\addplot[qline, tabpurple] table[x=x,y=pu]{\tabE};
\addplot[qline, tabbrown] table[x=x,y=bn]{\tabE};
\addplot[qline, tabpink] table[x=x,y=pk]{\tabE};
\addplot[qline, tabgray] table[x=x,y=gy]{\tabE};
\addplot[qline, tabolive] table[x=x,y=ol]{\tabE};
\addplot[qline, tabcyan] table[x=x,y=cy]{\tabE};
\end{axis}
% captions
\begin{scope}[every node/.style={font=\capfont\fontsize{24}{24}\selectfont, inner sep=0pt}]
\node at (160bp,406bp) {(a) Ground truth joint distribution};
\node at (512.5bp,406bp) {(b) VQR};
\node at (864bp,406bp) {(c) VQR + VMR};
\node at (518.5bp,16bp) {(d) NL-VQR};
\node at (865.5bp,16bp) {(e) NL-VQR + VMR};
\end{scope}
\end{tikzpicture}
\end{document}
